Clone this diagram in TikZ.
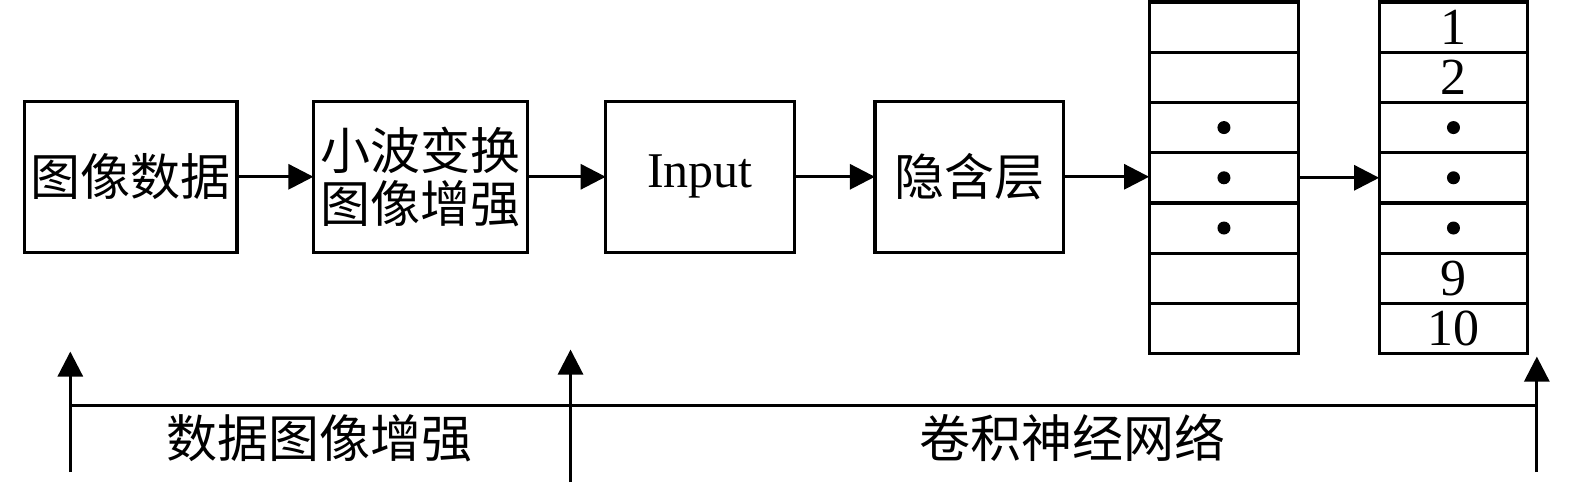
\documentclass[tikz,border=0pt]{standalone}
\usepackage{fontspec}
\setmainfont{Liberation Serif}
\newfontfamily\cjk{Noto Sans CJK SC}
\usetikzlibrary{arrows.meta}
\begin{document}
\begin{tikzpicture}[x=0.50223pt,y=-0.50223pt,
  every node/.style={inner sep=0pt,outer sep=0pt},
  box/.style={draw,line width=1.6pt,minimum height={150*0.50223pt},align=center,
    font=\cjk\fontsize{25pt}{26.5pt}\selectfont},
  cellA/.style={draw,line width=1.6pt,minimum width={149*0.50223pt},minimum height={50*0.50223pt}},
  cellB/.style={draw,line width=1.6pt,minimum width={148*0.50223pt},minimum height={50*0.50223pt},
    font=\fontsize{26pt}{26pt}\selectfont},
  conn/.style={line width=1.5pt,-{Triangle[length=12.5pt,width=12.5pt]}},
  bline/.style={line width=1.5pt},
  lbl/.style={font=\cjk\fontsize{25.5pt}{26pt}\selectfont},
  dotc/.style={fill=black,circle,minimum size=6.5pt}]
\useasboundingbox (0,0) rectangle (1568,483);
% top row boxes
\node[box,minimum width={212*0.50223pt}] (b1) at (130,176) {图像数据};
\node[box,minimum width={213*0.50223pt}] (b2) at (418.5,176) {小波变换\\图像增强};
\node[box,minimum width={188*0.50223pt},font=\fontsize{25pt}{26pt}\selectfont] (b3) at (697,176) {\raisebox{-3pt}{Input}};
\node[box,minimum width={188*0.50223pt}] (b4) at (965,176) {隐含层};
% stack 1
\foreach \i in {1,...,7}{
  \node[cellA] (sa\i) at (1218.5,{2+50*(\i-0.5)}) {};
}
\node[dotc] (da3) at (sa3) {};
\node[dotc] (da4) at (sa4) {};
\node[dotc] (da5) at (sa5) {};
% stack 2
\node[cellB] (sb1) at (1447,27) {\raisebox{-1.5pt}{1}};
\node[cellB] (sb2) at (1447,77) {\raisebox{-1.5pt}{2}};
\node[cellB] (sb3) at (1447,127) {};
\node[cellB] (sb4) at (1447,177) {};
\node[cellB] (sb5) at (1447,227) {};
\node[cellB] (sb6) at (1447,277) {\raisebox{-1.5pt}{9}};
\node[cellB] (sb7) at (1447,327) {\raisebox{-1.5pt}{10}};
\node[dotc] (db3) at (sb3) {};
\node[dotc] (db4) at (sb4) {};
\node[dotc] (db5) at (sb5) {};
% connectors
\draw[conn] (b1) -- (b2);
\draw[conn] (b2) -- (b3);
\draw[conn] (b3) -- (b4);
\draw[conn] (b4.east) -- (b4.east -| sa4.west);
\draw[conn] (sa4) -- (sb4);
% bottom timeline
\coordinate (p0) at (70,470);
\coordinate (p0t) at (70,350);
\coordinate (p1) at (568,480);
\coordinate (p1t) at (568,348);
\coordinate (p2) at (1530,470);
\coordinate (p2t) at (1530,355);
\coordinate (h0) at (70,404);
\coordinate (h1) at (1530,404);
\draw[conn] (p0) -- (p0t);
\draw[conn] (p1) -- (p1t);
\draw[conn] (p2) -- (p2t);
\draw[bline] (h0) -- (h1);
\node[lbl] (t1) at (318,436) {数据图像增强};
\node[lbl] (t2) at (1068,436) {卷积神经网络};
\end{tikzpicture}
\end{document}
